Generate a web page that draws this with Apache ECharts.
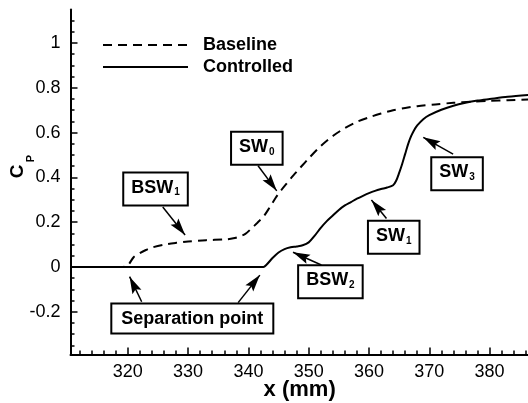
<!DOCTYPE html>
<html><head><meta charset="utf-8">
<script src="https://cdn.jsdelivr.net/npm/echarts@6/dist/echarts.min.js"></script>
<style>html,body{margin:0;padding:0;background:#fff}#c{width:528px;height:403px}</style>
</head><body><div id="c"></div>
<script>
// ---- data ----
const seriesNames = ['Baseline', 'Controlled'];
const baselineX  = [310.5, 319, 320, 321, 322, 323, 324, 326, 328, 330, 333, 336, 337.5, 338.5, 339.5, 340.5, 341.5, 342.5, 343.5, 344.5, 345.5, 346.5, 347.5, 348.5, 350, 352, 354, 356, 358, 360, 362, 364, 366, 368, 371, 374, 377, 380, 383, 386.5];
const baselineCp = [0, 0, 0.008, 0.045, 0.062, 0.076, 0.087, 0.1, 0.108, 0.114, 0.12, 0.123, 0.128, 0.136, 0.148, 0.172, 0.198, 0.225, 0.265, 0.308, 0.345, 0.378, 0.41, 0.44, 0.485, 0.54, 0.585, 0.62, 0.648, 0.668, 0.685, 0.7, 0.71, 0.718, 0.726, 0.733, 0.738, 0.742, 0.745, 0.748];
const controlledX  = [310.5, 342.5, 343, 344, 345, 346, 347, 348, 349, 350, 351, 352, 353, 354, 355, 356, 357, 358, 359, 360, 361, 362, 363, 364, 364.5, 365, 365.5, 366, 366.5, 367, 367.5, 368, 369, 370, 372, 374, 376, 378, 380, 383, 386.5];
const controlledCp = [0, 0, 0.01, 0.04, 0.065, 0.08, 0.088, 0.092, 0.097, 0.11, 0.14, 0.175, 0.205, 0.23, 0.255, 0.275, 0.29, 0.305, 0.318, 0.33, 0.34, 0.348, 0.355, 0.365, 0.385, 0.42, 0.46, 0.505, 0.55, 0.585, 0.612, 0.632, 0.66, 0.678, 0.702, 0.72, 0.733, 0.743, 0.75, 0.76, 0.768];

const xMajorTicks = [320, 330, 340, 350, 360, 370, 380];
const xMinorTicks = [312, 314, 316, 318, 322, 324, 326, 328, 332, 334, 336, 338, 342, 344, 346, 348, 352, 354, 356, 358, 362, 364, 366, 368, 372, 374, 376, 378, 382, 384, 386];
const yMajorTicks = [-0.2, 0, 0.2, 0.4, 0.6, 0.8, 1];
const yMinorTicks = [-0.35, -0.3, -0.25, -0.15, -0.1, -0.05, 0.05, 0.1, 0.15, 0.25, 0.3, 0.35, 0.45, 0.5, 0.55, 0.65, 0.7, 0.75, 0.85, 0.9, 0.95, 1.05, 1.1];

// annotation boxes: [main text, subscript, x, Cp]
const boxTexts = ['BSW', 'SW', 'SW', 'SW', 'BSW', 'Separation point'];
const boxSubs  = ['1', '0', '3', '1', '2', ''];
const boxX     = [324.6, 341.4, 374.6, 364.1, 353.6, 330.7];
const boxCp    = [0.348, 0.53, 0.4165, 0.1325, -0.066, -0.23];
// arrows: from (x,Cp) to tip (x,Cp)
const arrowFromX  = [325.8, 341.6, 373.95, 362.9, 352.1, 322.3, 338.3];
const arrowFromCp = [0.268, 0.452, 0.504, 0.217, 0.009, -0.155, -0.159];
const arrowToX    = [329.5, 344.7, 369.0, 360.4, 347.4, 320.3, 341.9];
const arrowToCp   = [0.143, 0.34, 0.579, 0.299, 0.066, -0.043, -0.036];

// ---- chart ----
const FONT = '"Liberation Sans", Arial, Helvetica, sans-serif';
const X_MIN = 310.5, X_MAX = 386.5, Y_MIN = -0.39, Y_MAX = 1.15;
const GRID = { left: 70.5, top: 9.4, width: 458.3, height: 345, containLabel: false, outerBoundsMode: 'none' };
const ARROW = 'path://M0,0 L0.01,0 Z M34,0 L33.99,0 Z M17,17 L22,34 L17,31 L12,34 Z';

function pairs(xs, ys) { return xs.map((x, i) => [x, ys[i]]); }

const boxRich = {
  m: { fontFamily: FONT, fontSize: 18, fontWeight: 'bold', color: '#000', lineHeight: 20 },
  s: { fontFamily: FONT, fontSize: 10, fontWeight: 'bold', color: '#000', lineHeight: 4, verticalAlign: 'bottom', padding: [0, 0, 0, 1] }
};

const chart = echarts.init(document.getElementById('c'), null, { renderer: 'canvas' });
const tickStyle = { color: '#000', width: 1.5 };

chart.setOption({
  animation: false,
  backgroundColor: '#fff',
  grid: [Object.assign({}, GRID), Object.assign({}, GRID)],
  legend: {
    orient: 'vertical', left: 102, top: 36, padding: 0,
    itemWidth: 85, itemHeight: 14, itemGap: 4, selectedMode: false,
    data: seriesNames,
    itemStyle: { opacity: 0 },
    textStyle: { fontFamily: FONT, fontSize: 18, fontWeight: 'bold', color: '#000', lineHeight: 18, padding: [0, 0, 0, 10] }
  },
  xAxis: [
    {
      gridIndex: 0, type: 'value', min: X_MIN, max: X_MAX,
      axisLine: { show: true, onZero: false, lineStyle: { color: '#000', width: 2 } },
      axisTick: { show: true, inside: true, length: 7, lineStyle: tickStyle, customValues: xMajorTicks },
      axisLabel: { customValues: xMajorTicks, fontFamily: FONT, fontSize: 18, color: '#000', margin: 9 },
      splitLine: { show: false },
      name: 'x (mm)', nameLocation: 'middle', nameGap: 25, nameMoveOverlap: false,
      nameTextStyle: { fontFamily: FONT, fontSize: 22, fontWeight: 'bold', color: '#000' }
    },
    {
      gridIndex: 1, type: 'value', min: X_MIN, max: X_MAX,
      axisLine: { show: false, onZero: false },
      axisTick: { show: true, inside: true, length: 4, lineStyle: tickStyle, customValues: xMinorTicks },
      axisLabel: { show: false }, splitLine: { show: false }
    }
  ],
  yAxis: [
    {
      gridIndex: 0, type: 'value', min: Y_MIN, max: Y_MAX,
      axisLine: { show: true, onZero: false, lineStyle: { color: '#000', width: 2 } },
      axisTick: { show: true, inside: true, length: 7, lineStyle: tickStyle, customValues: yMajorTicks },
      axisLabel: { customValues: yMajorTicks, fontFamily: FONT, fontSize: 18, color: '#000', margin: 10 },
      splitLine: { show: false }
    },
    {
      gridIndex: 1, type: 'value', min: Y_MIN, max: Y_MAX,
      axisLine: { show: false, onZero: false },
      axisTick: { show: true, inside: true, length: 4, lineStyle: tickStyle, customValues: yMinorTicks },
      axisLabel: { show: false }, splitLine: { show: false }
    }
  ],
  graphic: [
    { type: 'text', x: 17.5, y: 171.5, rotation: Math.PI / 2,
      style: { text: 'C', fontFamily: FONT, fontSize: 19, fontWeight: 'bold', fill: '#000', align: 'center', verticalAlign: 'middle' } },
    { type: 'text', x: 30.5, y: 158.5, rotation: Math.PI / 2,
      style: { text: 'P', fontFamily: FONT, fontSize: 11, fontWeight: 'bold', fill: '#000', align: 'center', verticalAlign: 'middle' } }
  ],
  series: [
    {
      name: seriesNames[0], type: 'line', xAxisIndex: 0, yAxisIndex: 0,
      data: pairs(baselineX, baselineCp), symbol: 'none', showSymbol: false, smooth: 0.3,
      lineStyle: { color: '#000', width: 2, type: [9, 6] }, itemStyle: { color: '#000' }
    },
    {
      name: seriesNames[1], type: 'line', xAxisIndex: 0, yAxisIndex: 0,
      data: pairs(controlledX, controlledCp), symbol: 'none', showSymbol: false, smooth: 0.3,
      lineStyle: { color: '#000', width: 2, type: 'solid' }, itemStyle: { color: '#000' },
      markLine: {
        silent: true, animation: false,
        symbol: ['none', ARROW], symbolSize: 34,
        lineStyle: { color: '#000', width: 1.5, type: 'solid' },
        label: { show: false },
        emphasis: { disabled: true },
        data: arrowFromX.map((x, i) => [
          { coord: [x, arrowFromCp[i]] },
          { coord: [arrowToX[i], arrowToCp[i]] }
        ])
      },
      markPoint: {
        silent: true, animation: false,
        symbol: 'circle', symbolSize: 0,
        label: {
          show: true, position: 'inside', color: '#000',
          backgroundColor: '#fff', borderColor: '#000', borderWidth: 2,
          padding: [4, 7, 7, 7], rich: boxRich
        },
        data: boxTexts.map((t, i) => ({
          coord: [boxX[i], boxCp[i]],
          label: boxSubs[i]
            ? { formatter: '{m|' + t + '}{s|' + boxSubs[i] + '}' }
            : { formatter: '{m|' + t + '}', padding: [4, 9, 4, 9] }
        }))
      }
    }
  ]
});
</script>
</body></html>
